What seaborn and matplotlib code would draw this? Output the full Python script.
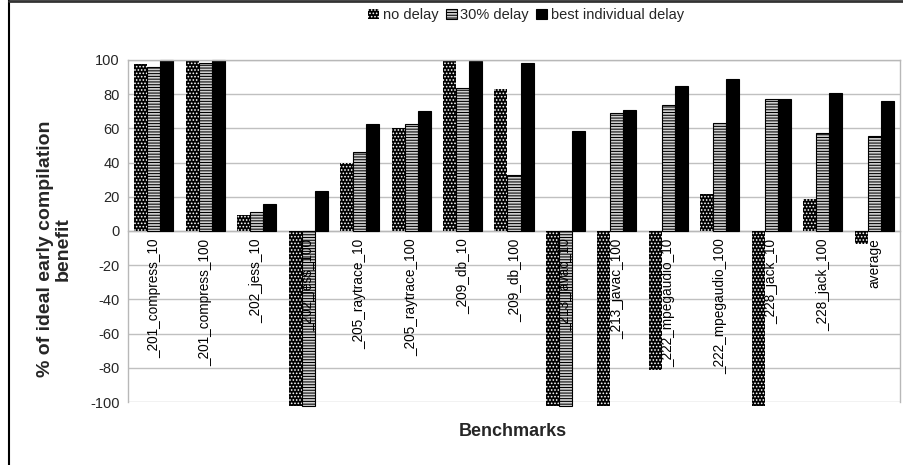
import numpy as np
import pandas as pd
import matplotlib
matplotlib.use("Agg")
import matplotlib.pyplot as plt
from matplotlib.lines import Line2D
import seaborn as sns

benchmarks = ["_201_compress_10", "_201_compress_100", "_202_jess_10", "_202_jess_100",
              "_205_raytrace_10", "_205_raytrace_100", "_209_db_10", "_209_db_100",
              "_213_javac_10", "_213_javac_100", "_222_mpegaudio_10", "_222_mpegaudio_100",
              "_228_jack_10", "_228_jack_100", "average"]
series = ["no delay", "30% delay", "best individual delay"]

no_delay = [97.5, 100, 9.3, -102.5, 39.6, 60.4, 100, 83.1, -102.5, -102.5, -81, 21.4, -102.5, 18.6, -7.8]
delay_30 = [96, 98.4, 10.9, -102.5, 46, 62.7, 83.7, 33, -102.5, 69.1, 73.4, 63.1, 77.3, 57.5, 55.7]
best_individual = [100, 100, 15.5, 23.3, 62.5, 70.3, 99.4, 98, 58.3, 70.9, 85, 89.1, 77.3, 80.8, 76.3]

yticks = list(range(-100, 101, 20))

df = pd.DataFrame({
    "benchmark": benchmarks * 3,
    "series": np.repeat(series, len(benchmarks)),
    "value": no_delay + delay_30 + best_individual,
})

sns.set_style("white")
plt.rcParams["font.family"] = ["Liberation Sans", "DejaVu Sans"]
plt.rcParams["hatch.linewidth"] = 0.75
plt.rcParams["axes.unicode_minus"] = False

fig = plt.figure(figsize=(9.04, 4.65), dpi=100)
ax = fig.add_axes([128 / 904, 1 - 402 / 465, (900 - 128) / 904, (402 - 60) / 465])

sns.barplot(data=df, x="benchmark", y="value", hue="series", order=benchmarks,
            hue_order=series, palette=["black", "#c8c8c8", "black"],
            width=0.76, ax=ax, legend=False, saturation=1)

styles = [
    dict(facecolor="black", edgecolor="white", hatch=".....", linewidth=0),
    dict(facecolor="#d0d0d0", edgecolor="black", hatch="------", linewidth=0.8),
    dict(facecolor="black", edgecolor="black", hatch=None, linewidth=0.8),
]
for cont, st in zip(ax.containers, styles):
    for p in cont.patches:
        p.set_facecolor(st["facecolor"])
        p.set_edgecolor(st["edgecolor"])
        p.set_hatch(st["hatch"])
        p.set_linewidth(st["linewidth"])
        p.set_clip_on(False)
        p.set_zorder(2)

ax.set_ylim(-100, 100)
ax.set_xlim(-0.5, len(benchmarks) - 0.5)
ax.set_yticks(yticks)
ax.yaxis.grid(True, color="#c0c0c0", linewidth=1)
ax.set_axisbelow(True)

# category axis sits on the zero line, with boundary ticks
ax.spines["bottom"].set_position(("data", 0))
ax.set_xticks(range(len(benchmarks)))
ax.set_xticklabels([])
ax.set_xticks(np.arange(-0.5, len(benchmarks)), minor=True)
ax.tick_params(axis="x", which="major", length=0)
ax.tick_params(axis="x", which="minor", length=4, color="#b0b0b0", width=1, direction="out")
ax.tick_params(axis="y", length=4, color="#b0b0b0", width=1, direction="out",
               labelsize=10.5, pad=2)
for name in ["left", "right", "bottom", "top"]:
    ax.spines[name].set_visible(True)
    ax.spines[name].set_color("#b8b8b8")
    ax.spines[name].set_linewidth(1)
ax.spines["bottom"].set_zorder(1.5)

for i, name in enumerate(benchmarks):
    ax.text(i, -4.5, name, rotation=90, ha="center", va="top", fontsize=9.8,
            color="black", zorder=5)

ax.set_xlabel("")
ax.set_ylabel("")
fig.text(513 / 904, 1 - 431 / 465, "Benchmarks", ha="center", va="center",
         fontsize=13, fontweight="bold")
fig.text(54 / 904, 1 - 249 / 465, "% of ideal early compilation\nbenefit", ha="center",
         va="center", rotation=90, fontsize=14, fontweight="bold", linespacing=1.05)

leg = ax.legend(ax.containers, series, loc="center", bbox_to_anchor=(526 / 904, 1 - 15 / 465),
                bbox_transform=fig.transFigure, ncol=3, frameon=False, fontsize=10.5,
                handlelength=0.75, handleheight=0.75, handletextpad=0.25,
                columnspacing=0.5, borderpad=0)

# outer frame lines
fig.add_artist(Line2D([9 / 904, 9 / 904], [0, 1], transform=fig.transFigure,
                      color="black", linewidth=1.5))
fig.add_artist(Line2D([9 / 904, 1], [1 - 1 / 465, 1 - 1 / 465], transform=fig.transFigure,
                      color="#333333", linewidth=2))

fig.savefig("out.png", dpi=100)
